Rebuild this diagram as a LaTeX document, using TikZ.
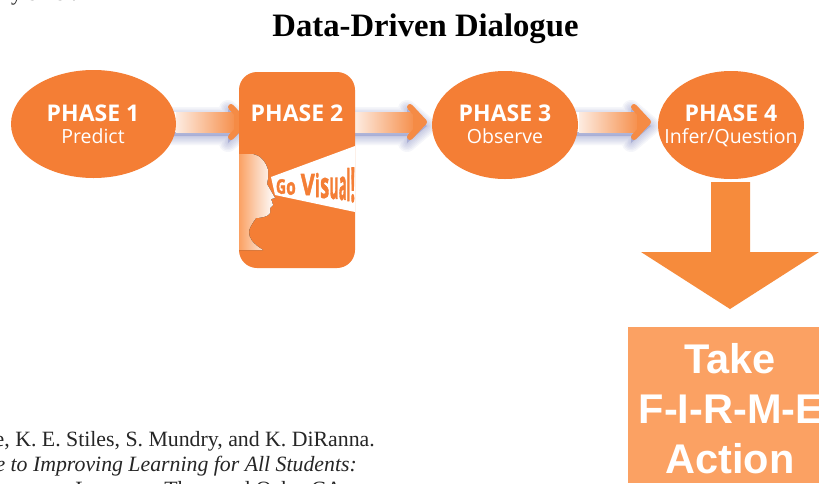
\documentclass[tikz,border=0pt]{standalone}
\usepackage{fontspec}
\setmainfont{Liberation Serif}
\newfontfamily\phasefont{Open Sans}
\newfontfamily\gvfont{Open Sans}[BoldFeatures={FakeBold=2}]
\newfontfamily\headfont{Liberation Sans}
\usetikzlibrary{shapes.geometric}
\definecolor{phaseorange}{HTML}{F47E35}
\definecolor{arrowend}{HTML}{F58B45}
\definecolor{downorange}{HTML}{F68B3C}
\definecolor{actionorange}{HTML}{FBA163}
\definecolor{shadowblue}{HTML}{5C66B4}
\definecolor{facemid}{HTML}{FBD2B6}
\tikzset{
  phase/.style={ellipse,fill=phaseorange,inner sep=0pt,text=white,align=center,font=\phasefont},
  ptitle/.style={font=\phasefont\bfseries\fontsize{23}{26}\selectfont,text=white},
  psub/.style={font=\phasefont\fontsize{19.5}{22}\selectfont,text=white},
  bodytext/.style={font=\fontsize{21.8}{25}\selectfont,text=black!85,anchor=base east,inner sep=0pt},
  headline/.style={anchor=center,inner sep=0pt,text=white,font=\headfont\bfseries\fontsize{41.5}{47}\selectfont},
  gvletter/.style={inner sep=0pt,anchor=center,text=phaseorange,font=\gvfont\bfseries},
}
\newcommand{\gvl}[6]{\node[gvletter] (#1) at (#2,#3) {\resizebox{#4pt}{#5pt}{#6}};}
\newcommand{\flowarrow}[2]{%
  \begin{scope}[shift={(#1,#2)}]
    \begin{scope}[yshift=-4pt]
    \foreach \w in {18,15,12,9,6,3}{
      \draw[shadowblue,draw opacity=.06,fill=none,line width=\w pt,line join=round]
        (-10,0) -- (52,0) -- (52,-7) -- (72,10) -- (52,27) -- (52,20) -- (-10,20) -- cycle;
    }
    \fill[shadowblue,opacity=.3] (-10,0) -- (52,0) -- (52,-7) -- (72,10) -- (52,27) -- (52,20) -- (-10,20) -- cycle;
    \end{scope}
    \fill[white] (-10,0) -- (60,0) -- (60,20) -- (-10,20) -- cycle;
    \fill[left color=phaseorange!15,right color=arrowend] (0,0) rectangle (62,20);
    \draw[arrowend,line width=6pt,line cap=round,line join=round] (55,-5) -- (69,10) -- (55,25);
    \fill[arrowend] (58,0) -- (69,10) -- (58,20) -- cycle;
  \end{scope}}
\begin{document}
\begin{tikzpicture}[x=1pt,y=-1pt]
\useasboundingbox (0,0) rectangle (819,483);
\begin{scope}
\clip (0,0) rectangle (819,483);
\fill[white] (0,0) rectangle (819,483);
\node[anchor=base,inner sep=0pt,font=\bfseries\fontsize{32.7}{36}\selectfont] (title) at (425.5,36) {Data-Driven Dialogue};
\node[bodytext,anchor=base west] (top) at (11,0.5) {\addfontfeature{LetterSpace=30}ysis.};
\node[bodytext] (l1) at (375,446) {e, K. E. Stiles, S. Mundry, and K. DiRanna.};
\node[bodytext,font=\itshape\fontsize{21.8}{25}\selectfont] (l2) at (357,471) {e to Improving Learning for All Students:};
\node[bodytext] (l3) at (348,496) {Learners. Thousand Oaks, CA:};
\flowarrow{176}{112}
\flowarrow{355}{112}
\flowarrow{579}{112}
\node[phase,minimum width=165pt,minimum height=108pt] (p1) at (93.5,124) {};
\node[phase,minimum width=146pt,minimum height=108pt] (p3) at (505,125) {};
\node[phase,minimum width=146pt,minimum height=108pt] (p4) at (731,125) {};
\fill[phaseorange,rounded corners=18pt] (239,72) rectangle (355,268);
% face
\fill[left color=actionorange,right color=white,middle color=facemid]
  (239,154) -- (253,154) .. controls (260,155) and (266,162) .. (268,170)
  -- (268,178) -- (267,184) -- (275,198) -- (271,199) -- (273,205) -- (270,208) -- (270,213)
  .. controls (269,216) and (262,218) .. (256,218)
  .. controls (252,224) and (249,228) .. (249,232)
  .. controls (249,238) and (252,243) .. (263,250) -- (239,250) -- cycle;
% beam
\fill[white] (355,146) -- (271,177) -- (275,195) -- (355,212) -- cycle;
\gvl{g1}{281}{186.5}{10}{14.5}{G}
\gvl{g2}{291}{188.5}{9.5}{12.5}{o}
\gvl{g3}{307.8}{184.5}{14}{21}{V}
\gvl{g4}{317.3}{185}{4.4}{24}{i}
\gvl{g5}{324.7}{188}{9}{20}{s}
\gvl{g6}{334}{188.5}{9}{21}{u}
\gvl{g7}{342.8}{188.5}{7.8}{23}{a}
\gvl{g8}{348.4}{184.5}{3.8}{33}{l}
\gvl{g9}{352.8}{185}{4.6}{34}{!}
\node[ptitle] (t1) at (93,113) {PHASE 1};
\node[psub] (s1) at (93,136) {Predict};
\node[ptitle] (t2) at (297,113) {PHASE 2};
\node[ptitle] (t3) at (505,113) {PHASE 3};
\node[psub] (s3) at (505,136) {Observe};
\node[ptitle] (t4) at (731,113) {PHASE 4};
\node[psub] (s4) at (731,137.5) {Infer/Question};
\fill[downorange] (711,182) -- (750,182) -- (750,252) -- (819,252) -- (730,309) -- (641,252) -- (711,252) -- cycle;
\fill[actionorange] (628,327) rectangle (819,483);
\node[headline] (a1) at (730,359) {Take};
\node[headline] (a2) at (731,409) {F-I-R-M-E};
\node[headline] (a3) at (730,459) {Action};
\end{scope}
\end{tikzpicture}
\end{document}
